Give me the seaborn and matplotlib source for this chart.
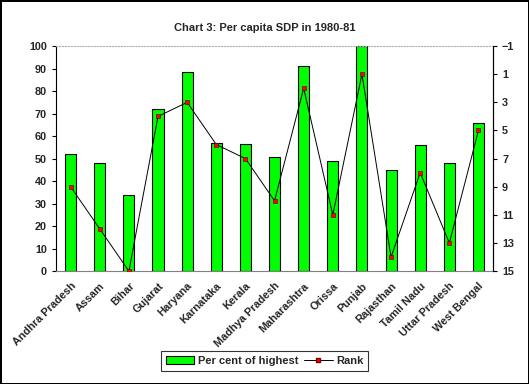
import numpy as np
import pandas as pd
import seaborn as sns
import matplotlib.pyplot as plt
from matplotlib.patches import Patch
from matplotlib.lines import Line2D

# values
states = ['Andhra Pradesh', 'Assam', 'Bihar', 'Gujarat', 'Haryana', 'Karnataka',
          'Kerala', 'Madhya Pradesh', 'Maharashtra', 'Orissa', 'Punjab',
          'Rajasthan', 'Tamil Nadu', 'Uttar Pradesh', 'West Bengal']
pct_of_highest = [52, 48, 34, 72, 88.5, 57, 56.5, 50.5, 91, 49, 100, 45, 56, 48, 66]
ranks = [9, 12, 15, 4, 3, 6, 7, 10, 2, 11, 1, 14, 8, 13, 5]

df = pd.DataFrame({'state': states, 'pct': pct_of_highest, 'rank': ranks})

sns.set_style('white')
plt.rcParams['font.family'] = ['Liberation Sans', 'DejaVu Sans']
plt.rcParams['font.weight'] = 'bold'

fig = plt.figure(figsize=(5.29, 3.84), dpi=100)
fig.patch.set_edgecolor('black')
fig.patch.set_linewidth(2)
ax = fig.add_axes([0.106, 0.294, 0.826, 0.586])

sns.barplot(data=df, x='state', y='pct', color='#00ff00', saturation=1,
            width=0.38, edgecolor='black', linewidth=0.8, ax=ax)
ax.set_xlim(-0.5, len(states) - 0.5)
ax.set_ylim(0, 100)
ax.set_yticks(range(0, 101, 10))
ax.set_xlabel('')
ax.set_ylabel('')
ax.set_xticks(np.arange(len(states)))
ax.set_xticklabels(states, rotation=45, ha='right', rotation_mode='anchor', fontsize=7.8)
ax.set_xticks(np.arange(-0.5, len(states)), minor=True)
ax.tick_params(axis='x', which='major', length=0, pad=7)
ax.tick_params(axis='x', which='minor', length=3, color='black', direction='out')
ax.tick_params(axis='y', labelsize=7.8, length=3, direction='out', color='black', left=True)
ax.spines['top'].set_color('#b0b0b0')
ax.spines['top'].set_linestyle(':')
ax.spines['bottom'].set_color('#808080')
ax.spines['left'].set_color('black')
ax.spines['left'].set_linewidth(0.8)

ax2 = ax.twinx()
ax2.plot(np.arange(len(states)), df['rank'], color='black', linewidth=0.7,
         marker='s', markersize=3.5, markerfacecolor='#ff0000', markeredgecolor='#800000',
         markeredgewidth=0.5)
ax2.set_ylim(15, -1)
ax2.set_yticks(range(-1, 16, 2))
ax2.tick_params(axis='y', labelsize=7.8, length=3, direction='out', color='black', right=True)
ax2.spines['right'].set_color('black')
ax2.spines['right'].set_linewidth(0.8)
for s in ['top', 'bottom', 'left']:
    ax2.spines[s].set_visible(False)

fig.suptitle('Chart 3: Per capita SDP in 1980-81', fontsize=8, fontweight='bold', y=0.94)

handles = [Patch(facecolor='#00ff00', edgecolor='black', linewidth=0.8),
           Line2D([0], [0], color='black', linewidth=0.7, marker='s', markersize=3.5,
                  markerfacecolor='#ff0000', markeredgecolor='#800000')]
leg = fig.legend(handles, ['Per cent of highest', 'Rank'], loc='lower center',
                 bbox_to_anchor=(0.5, 0.02), ncol=2, fontsize=8, frameon=True,
                 fancybox=False, edgecolor='black', handlelength=2.6,
                 columnspacing=0.5, handletextpad=0.3, borderpad=0.45)
leg.get_frame().set_linewidth(0.8)

fig.savefig('out.png', dpi=100)
